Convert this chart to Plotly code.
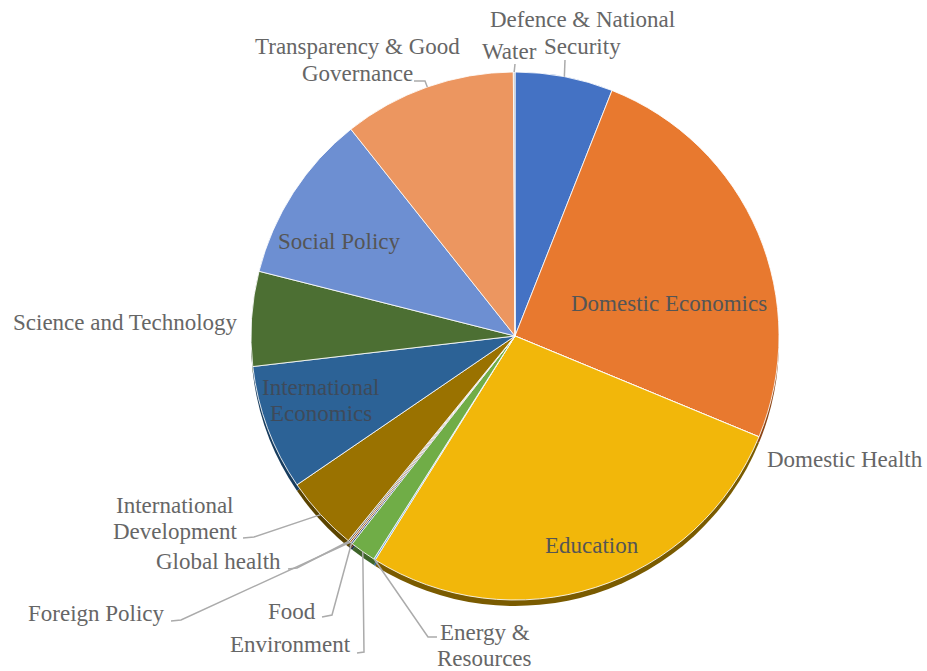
import math
import plotly.graph_objects as go

# Share of items by policy area (percent)
categories = [
    "Defence & National Security", "Domestic Economics", "Domestic Health",
    "Education", "Energy & Resources", "Environment", "Food", "Foreign Policy",
    "Global health", "International Development", "International Economics",
    "Science and Technology", "Social Policy", "Transparency & Good Governance",
    "Water",
]
shares = [6.0, 25.3, 0.0, 27.7, 0.1, 1.6, 0.1, 0.1, 0.1, 4.6, 7.7, 5.8, 10.4, 10.6, 0.1]

slice_colors = [
    "#4472C4", "#E8792F", "#A5A5A5", "#F2B70A", "#5B9BD5", "#70AD47",
    "#264478", "#9E480E", "#636363", "#9A7200", "#2C6296", "#4C6F33",
    "#6D8FD2", "#EC9660", "#B7B7B7",
]
edge_colors = [
    "#2A4A85", "#8C4415", "#6A6A6A", "#7A5B00", "#34648F", "#3F652A",
    "#142A4C", "#5E2A08", "#3C3C3C", "#5A4300", "#173C5E", "#2C4320",
    "#435E90", "#9A5B35", "#7A7A7A",
]

W, H = 927, 671
CX, CY, R = 515, 336, 264   # pie centre and radius in pixels
DEPTH = 6                    # thickness of the pie's lower edge


def px(x):
    return x / W


def py(y):
    return 1 - y / H


fig = go.Figure()

# darker copy, nudged downward, gives the disc its edge
fig.add_trace(go.Pie(
    labels=categories, values=shares, sort=False, direction="clockwise",
    rotation=0, textinfo="none", hoverinfo="skip", showlegend=False,
    marker=dict(colors=edge_colors, line=dict(width=0)),
    domain=dict(x=[px(CX - R), px(CX + R)],
                y=[py(CY + R + DEPTH), py(CY - R + DEPTH)]),
))
fig.add_trace(go.Pie(
    labels=categories, values=shares, sort=False, direction="clockwise",
    rotation=0, textinfo="none", showlegend=False,
    marker=dict(colors=slice_colors, line=dict(color="rgba(255,255,255,0.85)", width=1)),
    domain=dict(x=[px(CX - R), px(CX + R)],
                y=[py(CY + R), py(CY - R)]),
))

# point on the rim at the middle of each slice
total = sum(shares)
rim = {}
acc = 0.0
for name, v in zip(categories, shares):
    a = math.radians((acc + v / 2) / total * 360)
    rim[name] = (CX + R * math.sin(a), CY - R * math.cos(a))
    acc += v

FONT = "Liberation Serif"
OUT_COLOR = "#666666"
IN_COLOR = "#555555"
DARK_IN_COLOR = "#3e4a5a"
LINE_COLOR = "#ababab"
SIZE = 23
LEAD = 26.5   # distance between lines of a wrapped label

# outside labels: lines of text, centre x, first-line y, leader-line bend points
outside = [
    ("Defence & National Security", ["Defence & National", "Security"], 582, 20, [(565, 60)]),
    ("Water", ["Water"], 509, 52, [(515, 64)]),
    ("Transparency & Good Governance", ["Transparency & Good", "Governance"], 357, 47,
     [(425, 81), (414, 81)]),
    ("Science and Technology", ["Science and Technology"], 125, 322, []),
    ("Domestic Health", ["Domestic Health"], 845, 459, []),
    ("International Development", ["International", "Development"], 175, 505,
     [(254, 537), (243, 538)]),
    ("Global health", ["Global health"], 218, 561, [(297, 568), (288, 569)]),
    ("Foreign Policy", ["Foreign Policy"], 96, 613, [(181, 620), (171, 621)]),
    ("Food", ["Food"], 292, 611, [(332, 615), (322, 617)]),
    ("Environment", ["Environment"], 290, 644, [(364, 652), (357, 653)]),
    ("Energy & Resources", ["Energy &", "Resources"], 485, 632, [(428, 637), (437, 637)]),
]

# labels drawn on the slices
inside = [
    (["Domestic Economics"], 669, 303, IN_COLOR),
    (["Social Policy"], 339, 242, IN_COLOR),
    (["International", "Economics"], 321, 387, DARK_IN_COLOR),
    (["Education"], 592, 545, IN_COLOR),
]

annotations = []
shapes = []


def add_text(lines, x, y0, color):
    for k, line in enumerate(lines):
        annotations.append(dict(
            x=px(x), y=py(y0 + k * LEAD), xref="paper", yref="paper", text=line,
            showarrow=False, xanchor="center", yanchor="middle", align="center",
            font=dict(family=FONT, size=SIZE, color=color),
        ))


for key, lines, tx, ty, bends in outside:
    add_text(lines, tx, ty, OUT_COLOR)
    if bends:
        pts = [rim[key]] + bends
        path = "M " + " L ".join(f"{px(x):.5f},{py(y):.5f}" for x, y in pts)
        shapes.append(dict(type="path", path=path, xref="paper", yref="paper",
                           line=dict(color=LINE_COLOR, width=1.5)))

for lines, tx, ty, color in inside:
    add_text(lines, tx, ty, color)

fig.update_layout(
    width=W, height=H,
    margin=dict(l=0, r=0, t=0, b=0),
    paper_bgcolor="white", plot_bgcolor="white",
    annotations=annotations, shapes=shapes,
    showlegend=False,
)

fig.write_html("out.html")
